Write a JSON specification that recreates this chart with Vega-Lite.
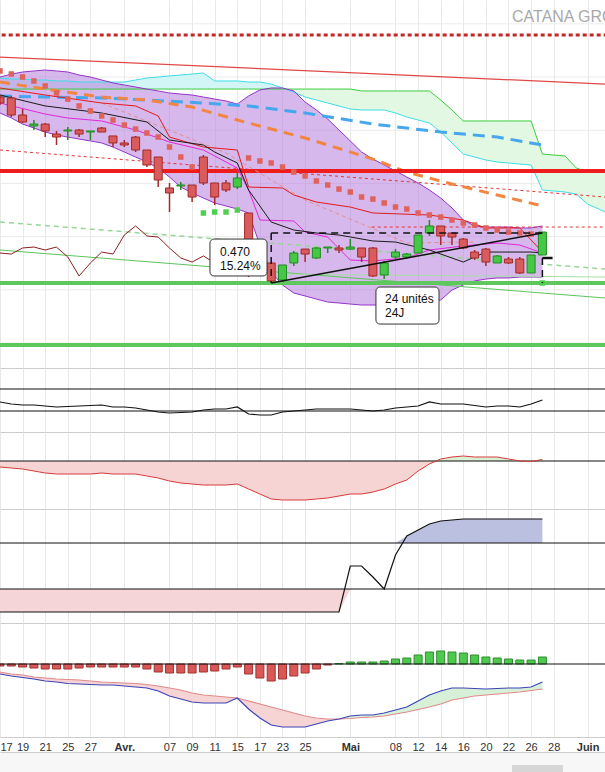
{
"$schema":"https://vega.github.io/schema/vega-lite/v6.json",
"padding":0,
"spacing":0,
"background":"#ffffff",
"config":{"view":{"stroke":null},"font":"Liberation Sans"},
"resolve":{"scale":{"x":"independent","y":"independent"}},
"datasets":{
"px":[
{"i":0,"d":"2025-03-17","o":4.362,"h":4.381,"l":4.287,"c":4.306,"sar":4.607,"bu":4.550,"bl":4.212},
{"i":1,"d":"2025-03-18","o":4.353,"h":4.372,"l":4.174,"c":4.193,"sar":4.578,"bu":4.578,"bl":4.165},
{"i":2,"d":"2025-03-19","o":4.193,"h":4.249,"l":4.118,"c":4.127,"sar":4.550,"bu":4.597,"bl":4.108},
{"i":3,"d":"2025-03-20","o":4.090,"h":4.146,"l":4.052,"c":4.108,"sar":4.513,"bu":4.607,"bl":4.071},
{"i":4,"d":"2025-03-21","o":4.108,"h":4.118,"l":3.986,"c":4.043,"sar":4.466,"bu":4.616,"bl":4.033},
{"i":5,"d":"2025-03-24","o":4.014,"h":4.043,"l":3.911,"c":3.986,"sar":4.400,"bu":4.607,"bl":4.005},
{"i":6,"d":"2025-03-25","o":4.043,"h":4.080,"l":3.958,"c":4.052,"sar":4.343,"bu":4.597,"bl":3.986},
{"i":7,"d":"2025-03-26","o":4.052,"h":4.061,"l":3.986,"c":4.014,"sar":4.278,"bu":4.569,"bl":3.967},
{"i":8,"d":"2025-03-27","o":4.033,"h":4.043,"l":3.958,"c":4.043,"sar":4.231,"bu":4.550,"bl":3.949},
{"i":9,"d":"2025-03-28","o":4.071,"h":4.080,"l":4.033,"c":4.033,"sar":4.184,"bu":4.522,"bl":3.930},
{"i":10,"d":"2025-03-31","o":3.996,"h":3.996,"l":3.892,"c":3.930,"sar":4.146,"bu":4.494,"bl":3.892},
{"i":11,"d":"2025-04-01","o":3.930,"h":3.958,"l":3.892,"c":3.911,"sar":4.099,"bu":4.475,"bl":3.845},
{"i":12,"d":"2025-04-02","o":3.986,"h":3.996,"l":3.845,"c":3.864,"sar":4.061,"bu":4.456,"bl":3.798},
{"i":13,"d":"2025-04-03","o":3.864,"h":3.864,"l":3.704,"c":3.723,"sar":4.024,"bu":4.437,"bl":3.751},
{"i":14,"d":"2025-04-04","o":3.798,"h":3.798,"l":3.516,"c":3.582,"sar":3.986,"bu":4.419,"bl":3.695},
{"i":15,"d":"2025-04-07","o":3.507,"h":3.554,"l":3.281,"c":3.460,"sar":3.892,"bu":4.400,"bl":3.610},
{"i":16,"d":"2025-04-08","o":3.526,"h":3.563,"l":3.488,"c":3.535,"sar":3.798,"bu":4.390,"bl":3.516},
{"i":17,"d":"2025-04-09","o":3.535,"h":3.535,"l":3.375,"c":3.422,"sar":3.704,"bu":4.381,"bl":3.460},
{"i":18,"d":"2025-04-10","o":3.798,"h":3.817,"l":3.535,"c":3.554,"sar":3.272,"bu":4.362,"bl":3.413},
{"i":19,"d":"2025-04-11","o":3.554,"h":3.554,"l":3.347,"c":3.422,"sar":3.281,"bu":4.343,"bl":3.366},
{"i":20,"d":"2025-04-14","o":3.554,"h":3.582,"l":3.469,"c":3.488,"sar":3.281,"bu":4.325,"bl":3.338},
{"i":21,"d":"2025-04-15","o":3.516,"h":3.648,"l":3.497,"c":3.601,"sar":3.300,"bu":4.296,"bl":3.309},
{"i":22,"d":"2025-04-16","o":3.272,"h":3.272,"l":2.670,"c":2.811,"sar":3.789,"bu":4.372,"bl":3.272},
{"i":23,"d":"2025-04-17","o":3.018,"h":3.027,"l":2.708,"c":2.736,"sar":3.761,"bu":4.428,"bl":2.971},
{"i":24,"d":"2025-04-22","o":2.802,"h":2.802,"l":2.623,"c":2.633,"sar":3.742,"bu":4.447,"bl":2.717},
{"i":25,"d":"2025-04-23","o":2.642,"h":2.783,"l":2.623,"c":2.783,"sar":3.704,"bu":4.447,"bl":2.595},
{"i":26,"d":"2025-04-24","o":2.802,"h":2.915,"l":2.774,"c":2.896,"sar":3.657,"bu":4.419,"bl":2.520},
{"i":27,"d":"2025-04-25","o":2.933,"h":2.933,"l":2.811,"c":2.886,"sar":3.620,"bu":4.315,"bl":2.492},
{"i":28,"d":"2025-04-28","o":2.849,"h":2.952,"l":2.839,"c":2.943,"sar":3.573,"bu":4.240,"bl":2.463},
{"i":29,"d":"2025-04-29","o":2.943,"h":2.952,"l":2.896,"c":2.952,"sar":3.535,"bu":4.155,"bl":2.435},
{"i":30,"d":"2025-04-30","o":2.943,"h":2.971,"l":2.896,"c":2.924,"sar":3.497,"bu":4.052,"bl":2.426},
{"i":31,"d":"2025-05-02","o":2.933,"h":3.027,"l":2.924,"c":2.952,"sar":3.469,"bu":3.949,"bl":2.416},
{"i":32,"d":"2025-05-05","o":2.943,"h":2.943,"l":2.811,"c":2.858,"sar":3.422,"bu":3.845,"bl":2.407},
{"i":33,"d":"2025-05-06","o":2.943,"h":2.952,"l":2.670,"c":2.680,"sar":3.403,"bu":3.779,"bl":2.407},
{"i":34,"d":"2025-05-07","o":2.689,"h":2.821,"l":2.651,"c":2.802,"sar":3.366,"bu":3.723,"bl":2.407},
{"i":35,"d":"2025-05-08","o":2.858,"h":2.933,"l":2.839,"c":2.905,"sar":3.328,"bu":3.667,"bl":2.416},
{"i":36,"d":"2025-05-09","o":2.858,"h":2.896,"l":2.849,"c":2.886,"sar":3.309,"bu":3.610,"bl":2.426},
{"i":37,"d":"2025-05-12","o":2.896,"h":3.065,"l":2.896,"c":3.065,"sar":3.272,"bu":3.554,"bl":2.435},
{"i":38,"d":"2025-05-13","o":3.084,"h":3.206,"l":3.056,"c":3.150,"sar":3.253,"bu":3.488,"bl":2.445},
{"i":39,"d":"2025-05-14","o":3.150,"h":3.150,"l":2.971,"c":3.056,"sar":3.234,"bu":3.413,"bl":2.454},
{"i":40,"d":"2025-05-15","o":3.084,"h":3.084,"l":2.971,"c":3.046,"sar":3.206,"bu":3.319,"bl":2.548},
{"i":41,"d":"2025-05-16","o":3.027,"h":3.037,"l":2.933,"c":2.943,"sar":3.178,"bu":3.206,"bl":2.595},
{"i":42,"d":"2025-05-19","o":2.905,"h":2.924,"l":2.830,"c":2.849,"sar":3.159,"bu":3.150,"bl":2.633},
{"i":43,"d":"2025-05-20","o":2.933,"h":2.943,"l":2.774,"c":2.811,"sar":3.131,"bu":3.140,"bl":2.651},
{"i":44,"d":"2025-05-21","o":2.802,"h":2.877,"l":2.802,"c":2.868,"sar":3.112,"bu":3.140,"bl":2.661},
{"i":45,"d":"2025-05-22","o":2.839,"h":2.858,"l":2.792,"c":2.802,"sar":3.093,"bu":3.140,"bl":2.661},
{"i":46,"d":"2025-05-23","o":2.839,"h":2.858,"l":2.698,"c":2.708,"sar":3.084,"bu":3.131,"bl":2.670},
{"i":47,"d":"2025-05-26","o":2.708,"h":2.877,"l":2.708,"c":2.877,"sar":3.074,"bu":3.131,"bl":2.670},
{"i":48,"d":"2025-05-27","o":2.877,"h":3.093,"l":2.877,"c":3.093,"sar":2.614,"bu":3.150,"bl":2.670}
],
"ic":[
{"i":0,"a":4.437,"b":4.541},{"i":1,"a":4.437,"b":4.531},{"i":2,"a":4.437,"b":4.531},{"i":3,"a":4.437,"b":4.522},
{"i":4,"a":4.437,"b":4.522},{"i":5,"a":4.437,"b":4.513},{"i":6,"a":4.437,"b":4.513},{"i":7,"a":4.437,"b":4.503},
{"i":8,"a":4.437,"b":4.503},{"i":9,"a":4.437,"b":4.503},{"i":10,"a":4.437,"b":4.503},{"i":11,"a":4.437,"b":4.503},
{"i":12,"a":4.437,"b":4.522},{"i":13,"a":4.437,"b":4.541},{"i":14,"a":4.437,"b":4.550},{"i":15,"a":4.437,"b":4.560},
{"i":16,"a":4.437,"b":4.569},{"i":17,"a":4.437,"b":4.578},{"i":18,"a":4.437,"b":4.588},{"i":19,"a":4.437,"b":4.513},
{"i":20,"a":4.437,"b":4.513},{"i":21,"a":4.437,"b":4.513},{"i":22,"a":4.437,"b":4.503},{"i":23,"a":4.437,"b":4.503},
{"i":24,"a":4.437,"b":4.484},{"i":25,"a":4.437,"b":4.447},{"i":26,"a":4.437,"b":4.409},{"i":27,"a":4.437,"b":4.362},
{"i":28,"a":4.437,"b":4.334},{"i":29,"a":4.437,"b":4.306},{"i":30,"a":4.437,"b":4.278},{"i":31,"a":4.437,"b":4.249},
{"i":32,"a":4.419,"b":4.240},{"i":33,"a":4.419,"b":4.240},{"i":34,"a":4.419,"b":4.240},{"i":35,"a":4.419,"b":4.212},
{"i":36,"a":4.419,"b":4.174},{"i":37,"a":4.419,"b":4.146},{"i":38,"a":4.419,"b":4.118},{"i":39,"a":4.334,"b":4.033},
{"i":40,"a":4.240,"b":3.930},{"i":41,"a":4.137,"b":3.826},{"i":42,"a":4.137,"b":3.798},{"i":43,"a":4.137,"b":3.770},
{"i":44,"a":4.137,"b":3.751},{"i":45,"a":4.137,"b":3.742},{"i":46,"a":4.137,"b":3.732},{"i":47,"a":4.137,"b":3.723},
{"i":48,"a":3.826,"b":3.488},{"i":49,"a":3.817,"b":3.479},{"i":50,"a":3.808,"b":3.469},{"i":51,"a":3.695,"b":3.450},
{"i":52,"a":3.657,"b":3.356},{"i":53,"a":3.657,"b":3.309},{"i":53.54,"a":3.657,"b":3.281}
],
"ck":[
{"i":0,"v":2.896},{"i":1,"v":2.886},{"i":2,"v":2.943},{"i":3,"v":2.952},{"i":4,"v":2.924},{"i":5,"v":2.952},
{"i":6,"v":2.858},{"i":7,"v":2.680},{"i":8,"v":2.802},{"i":9,"v":2.905},{"i":10,"v":2.886},{"i":11,"v":3.065},
{"i":12,"v":3.150},{"i":13,"v":3.056},{"i":14,"v":3.046},{"i":15,"v":2.943},{"i":16,"v":2.849},{"i":17,"v":2.811},
{"i":18,"v":2.868},{"i":19,"v":2.802},{"i":20,"v":2.708},{"i":21,"v":2.877},{"i":22,"v":3.093}
],
"ma":[
{"s":"blue","i":0,"v":4.372},{"s":"blue","i":4,"v":4.362},{"s":"blue","i":9,"v":4.353},{"s":"blue","i":13,"v":4.334},{"s":"blue","i":18,"v":4.306},{"s":"blue","i":22,"v":4.278},{"s":"blue","i":27,"v":4.212},{"s":"blue","i":33,"v":4.108},{"s":"blue","i":39,"v":4.033},{"s":"blue","i":44,"v":3.986},{"s":"blue","i":48,"v":3.911},
{"s":"orange","i":0,"v":4.503},{"s":"orange","i":4,"v":4.437},{"s":"orange","i":9,"v":4.362},{"s":"orange","i":13,"v":4.334},{"s":"orange","i":17,"v":4.268},{"s":"orange","i":21,"v":4.146},{"s":"orange","i":27,"v":3.977},{"s":"orange","i":33,"v":3.779},{"s":"orange","i":36,"v":3.657},{"s":"orange","i":40,"v":3.544},{"s":"orange","i":44,"v":3.441},{"s":"orange","i":48,"v":3.338},
{"s":"black","i":0,"v":4.381},{"s":"black","i":4,"v":4.278},{"s":"black","i":9,"v":4.212},{"s":"black","i":13,"v":4.127},{"s":"black","i":15,"v":3.958},{"s":"black","i":18,"v":3.911},{"s":"black","i":19,"v":3.845},{"s":"black","i":21,"v":3.742},{"s":"black","i":22,"v":3.488},{"s":"black","i":24,"v":3.187},{"s":"black","i":26,"v":3.112},{"s":"black","i":28,"v":3.084},{"s":"black","i":30,"v":3.065},{"s":"black","i":33,"v":3.009},{"s":"black","i":35,"v":2.999},{"s":"black","i":38,"v":2.924},{"s":"black","i":41,"v":2.811},{"s":"black","i":43,"v":2.905},{"s":"black","i":47,"v":2.905},{"s":"black","i":48,"v":2.896},
{"s":"red","i":0,"v":4.447},{"s":"red","i":4,"v":4.381},{"s":"red","i":9,"v":4.306},{"s":"red","i":12,"v":4.278},{"s":"red","i":14,"v":4.184},{"s":"red","i":15,"v":3.986},{"s":"red","i":18,"v":3.892},{"s":"red","i":21,"v":3.864},{"s":"red","i":22,"v":3.516},{"s":"red","i":25,"v":3.507},{"s":"red","i":26,"v":3.441},{"s":"red","i":28,"v":3.375},{"s":"red","i":31,"v":3.328},{"s":"red","i":33,"v":3.272},{"s":"red","i":38,"v":3.253},{"s":"red","i":41,"v":3.206},{"s":"red","i":43,"v":3.131},{"s":"red","i":46,"v":3.131},{"s":"red","i":47,"v":3.018},{"s":"red","i":48,"v":2.905},
{"s":"mag","i":0,"v":4.306},{"s":"mag","i":4,"v":4.202},{"s":"mag","i":6,"v":4.165},{"s":"mag","i":9,"v":4.137},{"s":"mag","i":12,"v":4.052},{"s":"mag","i":15,"v":3.939},{"s":"mag","i":18,"v":3.864},{"s":"mag","i":21,"v":3.695},{"s":"mag","i":22,"v":3.488},{"s":"mag","i":23,"v":3.206},{"s":"mag","i":26,"v":3.197},{"s":"mag","i":27,"v":3.093},{"s":"mag","i":29,"v":3.046},{"s":"mag","i":31,"v":2.830},{"s":"mag","i":33,"v":2.821},{"s":"mag","i":36,"v":2.849},{"s":"mag","i":38,"v":2.924},{"s":"mag","i":41,"v":2.962},{"s":"mag","i":44,"v":2.990},{"s":"mag","i":46,"v":2.971},{"s":"mag","i":48,"v":2.896},
{"s":"salm","i":9,"v":4.306},{"s":"salm","i":20,"v":3.836},{"s":"salm","i":27,"v":3.394},{"s":"salm","i":36,"v":2.990},{"s":"salm","i":42,"v":2.999}
],
"gl":[
{"g":"5.05","i":0,"v":5.05},{"g":"5.05","i":53.54,"v":5.05},
{"g":"4.55","i":0,"v":4.55},{"g":"4.55","i":53.54,"v":4.55},
{"g":"4.05","i":0,"v":4.05},{"g":"4.05","i":53.54,"v":4.05},
{"g":"3.55","i":0,"v":3.55},{"g":"3.55","i":53.54,"v":3.55},
{"g":"3.05","i":0,"v":3.05},{"g":"3.05","i":53.54,"v":3.05},
{"g":"2.55","i":0,"v":2.55},{"g":"2.55","i":53.54,"v":2.55},
{"g":"2.05","i":0,"v":2.05},{"g":"2.05","i":53.54,"v":2.05}
],
"hz":[
{"s":"rthick","i":0,"i2":53.54,"v":3.667},
{"s":"gthick1","i":0,"i2":53.54,"v":2.614},
{"s":"gthick2","i":0,"i2":53.54,"v":2.031}
],
"tl":[
{"s":"rdot","i":0.15,"v":4.945},{"s":"rdot","i":53.54,"v":4.945},
{"s":"rthin","i":0,"v":4.738},{"s":"rthin","i":53.54,"v":4.484},
{"s":"rdash","i":0,"v":3.864},{"s":"rdash","i":53.54,"v":3.422},
{"s":"rdash2","i":32.9,"v":3.140},{"s":"rdash2","i":53.54,"v":3.140},
{"s":"gdash","i":0,"v":3.187},{"s":"gdash","i":53.54,"v":2.745},
{"s":"gthin","i":0,"v":2.924},{"s":"gthin","i":53.54,"v":2.473},
{"s":"gfaint","i":24,"v":2.698},{"s":"gfaint","i":53.54,"v":2.670},
{"s":"kdash","i":24,"v":3.084},{"s":"kdash","i":48,"v":3.084},
{"s":"kvl","i":24,"v":3.084},{"s":"kvl","i":24,"v":2.614},
{"s":"kvr","i":48,"v":2.849},{"s":"kvr","i":48,"v":2.614},
{"s":"kdiag","i":24,"v":2.614},{"s":"kdiag","i":48,"v":3.084},
{"s":"khr","i":48,"v":2.849},{"s":"khr","i":48.9,"v":2.849}
],
"nb":[
{"k":"b1","i":18.58,"i2":23.63,"y":3.027,"y2":2.680},
{"k":"b2","i":33.27,"i2":38.85,"y":2.576,"y2":2.228}
],
"nt":[
{"i":19.47,"v":2.905,"t":"0.470"},
{"i":19.47,"v":2.774,"t":"15.24%"},
{"i":34.07,"v":2.459,"t":"24 unités"},
{"i":34.07,"v":2.332,"t":"24J"}
],
"ti":[{"i":45.31,"v":5.114,"t":"CATANA GROUP"}],
"lv":[
{"k":"r70","i":0,"v":70},{"k":"r70","i":53.54,"v":70},{"k":"r30","i":0,"v":30},{"k":"r30","i":53.54,"v":30},
{"k":"o0","i":0,"v":0},{"k":"o0","i":53.54,"v":0},
{"k":"s0","i":0,"v":0},{"k":"s0","i":53.54,"v":0},{"k":"s46","i":0,"v":46},{"k":"s46","i":53.54,"v":46},
{"k":"m0","i":0,"v":0},{"k":"m0","i":53.54,"v":0}
],
"nav":[{"i":45.31,"i2":49.82,"y":0,"y2":7}],
"sb":[
{"i":0,"rsi":46.4,"os":-6,"on":-6,"op":0,"st":-23,"sl":-23,"sh":46,"mh":-2,"mm":-10,"ms":-8},
{"i":1,"rsi":42.7,"os":-7,"on":-7,"op":0,"st":-23,"sl":-23,"sh":46,"mh":-2,"mm":-12,"ms":-10},
{"i":2,"rsi":40.9,"os":-8,"on":-8,"op":0,"st":-23,"sl":-23,"sh":46,"mh":-3,"mm":-13.5,"ms":-11},
{"i":3,"rsi":40.9,"os":-10,"on":-10,"op":0,"st":-23,"sl":-23,"sh":46,"mh":-4,"mm":-15,"ms":-13},
{"i":4,"rsi":39.1,"os":-12,"on":-12,"op":0,"st":-23,"sl":-23,"sh":46,"mh":-5,"mm":-17,"ms":-14},
{"i":5,"rsi":37.3,"os":-13,"on":-13,"op":0,"st":-23,"sl":-23,"sh":46,"mh":-5,"mm":-18,"ms":-15},
{"i":6,"rsi":38.2,"os":-13,"on":-13,"op":0,"st":-23,"sl":-23,"sh":46,"mh":-5,"mm":-19.5,"ms":-15.5},
{"i":7,"rsi":39.1,"os":-13,"on":-13,"op":0,"st":-23,"sl":-23,"sh":46,"mh":-4,"mm":-20,"ms":-16},
{"i":8,"rsi":40.0,"os":-13,"on":-13,"op":0,"st":-23,"sl":-23,"sh":46,"mh":-3,"mm":-20.5,"ms":-17},
{"i":9,"rsi":40.9,"os":-12,"on":-12,"op":0,"st":-23,"sl":-23,"sh":46,"mh":-3,"mm":-21,"ms":-18},
{"i":10,"rsi":37.3,"os":-13,"on":-13,"op":0,"st":-23,"sl":-23,"sh":46,"mh":-3,"mm":-21,"ms":-18.5},
{"i":11,"rsi":37.3,"os":-13,"on":-13,"op":0,"st":-23,"sl":-23,"sh":46,"mh":-3,"mm":-22,"ms":-19},
{"i":12,"rsi":35.5,"os":-13,"on":-13,"op":0,"st":-23,"sl":-23,"sh":46,"mh":-3,"mm":-23,"ms":-19.5},
{"i":13,"rsi":31.8,"os":-15,"on":-15,"op":0,"st":-23,"sl":-23,"sh":46,"mh":-5,"mm":-24,"ms":-20.5},
{"i":14,"rsi":28.2,"os":-17,"on":-17,"op":0,"st":-23,"sl":-23,"sh":46,"mh":-8,"mm":-27,"ms":-22},
{"i":15,"rsi":26.4,"os":-20,"on":-20,"op":0,"st":-23,"sl":-23,"sh":46,"mh":-9,"mm":-32,"ms":-24},
{"i":16,"rsi":27.3,"os":-22,"on":-22,"op":0,"st":-23,"sl":-23,"sh":46,"mh":-9,"mm":-35,"ms":-26},
{"i":17,"rsi":28.2,"os":-23,"on":-23,"op":0,"st":-23,"sl":-23,"sh":46,"mh":-9,"mm":-38,"ms":-29},
{"i":18,"rsi":31.8,"os":-24,"on":-24,"op":0,"st":-23,"sl":-23,"sh":46,"mh":-8,"mm":-39,"ms":-31},
{"i":19,"rsi":33.6,"os":-24,"on":-24,"op":0,"st":-23,"sl":-23,"sh":46,"mh":-7,"mm":-39,"ms":-32},
{"i":20,"rsi":33.6,"os":-24,"on":-24,"op":0,"st":-23,"sl":-23,"sh":46,"mh":-5,"mm":-39,"ms":-33},
{"i":21,"rsi":37.3,"os":-23,"on":-23,"op":0,"st":-23,"sl":-23,"sh":46,"mh":-3,"mm":-34,"ms":-34},
{"i":22,"rsi":24.5,"os":-28,"on":-28,"op":0,"st":-23,"sl":-23,"sh":46,"mh":-10,"mm":-45,"ms":-37},
{"i":23,"rsi":22.7,"os":-33,"on":-33,"op":0,"st":-23,"sl":-23,"sh":46,"mh":-14,"mm":-54,"ms":-40},
{"i":24,"rsi":22.7,"os":-38,"on":-38,"op":0,"st":-23,"sl":-23,"sh":46,"mh":-17,"mm":-61,"ms":-43},
{"i":25,"rsi":28.2,"os":-39,"on":-39,"op":0,"st":-23,"sl":-23,"sh":46,"mh":-15,"mm":-63,"ms":-46},
{"i":26,"rsi":30.0,"os":-39,"on":-39,"op":0,"st":-23,"sl":-23,"sh":46,"mh":-12,"mm":-63,"ms":-49},
{"i":27,"rsi":31.8,"os":-39,"on":-39,"op":0,"st":-23,"sl":-23,"sh":46,"mh":-9,"mm":-63,"ms":-52},
{"i":28,"rsi":33.6,"os":-38,"on":-38,"op":0,"st":-23,"sl":-23,"sh":46,"mh":-5,"mm":-60,"ms":-54},
{"i":29,"rsi":33.6,"os":-37,"on":-37,"op":0,"st":-23,"sl":-23,"sh":46,"mh":-1,"mm":-57,"ms":-55},
{"i":30,"rsi":33.6,"os":-35,"on":-35,"op":0,"st":-23,"sl":-23,"sh":46,"mh":0.5,"mm":-55,"ms":-55},
{"i":31,"rsi":33.6,"os":-33,"on":-33,"op":0,"st":23,"sl":0,"sh":46,"mh":2,"mm":-52,"ms":-54.5},
{"i":32,"rsi":31.8,"os":-33,"on":-33,"op":0,"st":23,"sl":0,"sh":46,"mh":2,"mm":-51,"ms":-53.5},
{"i":33,"rsi":30.0,"os":-31,"on":-31,"op":0,"st":12,"sl":0,"sh":46,"mh":2,"mm":-51,"ms":-53},
{"i":34,"rsi":31.8,"os":-28,"on":-28,"op":0,"st":0,"sl":0,"sh":46,"mh":3,"mm":-49,"ms":-52},
{"i":35,"rsi":35.5,"os":-23,"on":-23,"op":0,"st":34,"sl":0,"sh":46,"mh":5,"mm":-46,"ms":-50},
{"i":36,"rsi":37.3,"os":-19,"on":-19,"op":0,"st":53,"sl":0,"sh":53,"mh":6,"mm":-43,"ms":-48},
{"i":37,"rsi":39.1,"os":-10,"on":-10,"op":0,"st":59,"sl":0,"sh":59,"mh":9,"mm":-37,"ms":-45.5},
{"i":38,"rsi":46.4,"os":-3,"on":-3,"op":0,"st":65,"sl":0,"sh":65,"mh":12,"mm":-31,"ms":-43},
{"i":39,"rsi":42.7,"os":2,"on":0,"op":2,"st":68,"sl":0,"sh":68,"mh":13,"mm":-27,"ms":-40},
{"i":40,"rsi":42.7,"os":4,"on":0,"op":4,"st":69,"sl":0,"sh":69,"mh":12,"mm":-24,"ms":-36},
{"i":41,"rsi":42.7,"os":5,"on":0,"op":5,"st":70,"sl":0,"sh":70,"mh":11,"mm":-24,"ms":-34},
{"i":42,"rsi":40.0,"os":4,"on":0,"op":4,"st":70,"sl":0,"sh":70,"mh":9,"mm":-24.5,"ms":-32},
{"i":43,"rsi":37.3,"os":4,"on":0,"op":4,"st":70,"sl":0,"sh":70,"mh":7,"mm":-25,"ms":-31},
{"i":44,"rsi":39.1,"os":4,"on":0,"op":4,"st":70,"sl":0,"sh":70,"mh":6,"mm":-24.5,"ms":-30},
{"i":45,"rsi":39.1,"os":2,"on":0,"op":2,"st":70,"sl":0,"sh":70,"mh":5,"mm":-24,"ms":-29},
{"i":46,"rsi":37.3,"os":0,"on":0,"op":0,"st":70,"sl":0,"sh":70,"mh":4,"mm":-24,"ms":-28},
{"i":47,"rsi":42.7,"os":-0.5,"on":-0.5,"op":0,"st":70,"sl":0,"sh":70,"mh":4,"mm":-23,"ms":-26.5},
{"i":48,"rsi":50.0,"os":1.5,"on":0,"op":1.5,"st":70,"sl":0,"sh":70,"mh":7,"mm":-18,"ms":-25}
]
},
"vconcat":[
{
"width":605,"height":368,
"encoding":{"x":{"field":"i","type":"quantitative","scale":{"domain":[0,53.54],"nice":false,"zero":false,"clamp":true},"axis":{"values":[0,2,4,6,8,11,15,17,19,21,23,25,27,31,35,37,39,41,43,45,47,49,52],"labels":false,"ticks":false,"domain":true,"domainColor":"#cccccc","grid":true,"gridColor":"#e8e8e8","title":null}}},
"layer":[
{"data":{"name":"gl"},"mark":{"type":"line","color":"#ebebeb","strokeWidth":1,"clip":true},
 "encoding":{"y":{"field":"v","type":"quantitative","scale":{"domain":[1.815,5.274],"nice":false,"zero":false},"axis":null},"detail":{"field":"g"}}},
{"data":{"name":"ic"},"transform":[{"filter":"datum.i<=25"}],"mark":{"type":"area","color":"#d2f5f6","clip":true},
 "encoding":{"y":{"field":"a","type":"quantitative","scale":{"domain":[1.815,5.274],"nice":false,"zero":false},"axis":null},"y2":{"field":"b"}}},
{"data":{"name":"ic"},"transform":[{"filter":"datum.i>=25"}],"mark":{"type":"area","color":"#e2f8e2","clip":true},
 "encoding":{"y":{"field":"a","type":"quantitative","scale":{"domain":[1.815,5.274],"nice":false,"zero":false},"axis":null},"y2":{"field":"b"}}},
{"data":{"name":"px"},"mark":{"type":"area","color":"#b57edc","opacity":0.55,"clip":true},
 "encoding":{"y":{"field":"bu","type":"quantitative","scale":{"domain":[1.815,5.274],"nice":false,"zero":false},"axis":null},"y2":{"field":"bl"}}},
{"data":{"name":"ic"},"mark":{"type":"line","color":"#3dcc3d","strokeWidth":1,"clip":true},
 "encoding":{"y":{"field":"a","type":"quantitative","scale":{"domain":[1.815,5.274],"nice":false,"zero":false},"axis":null}}},
{"data":{"name":"ic"},"mark":{"type":"line","color":"#3fdde6","strokeWidth":1,"clip":true},
 "encoding":{"y":{"field":"b","type":"quantitative","scale":{"domain":[1.815,5.274],"nice":false,"zero":false},"axis":null}}},
{"data":{"name":"px"},"mark":{"type":"line","color":"#9434c8","strokeWidth":1,"clip":true},
 "encoding":{"y":{"field":"bu","type":"quantitative","scale":{"domain":[1.815,5.274],"nice":false,"zero":false},"axis":null}}},
{"data":{"name":"px"},"mark":{"type":"line","color":"#9434c8","strokeWidth":1,"clip":true},
 "encoding":{"y":{"field":"bl","type":"quantitative","scale":{"domain":[1.815,5.274],"nice":false,"zero":false},"axis":null}}},
{"data":{"name":"tl"},"transform":[{"filter":"datum.s=='rdot'"}],"mark":{"type":"line","color":"#c42626","strokeWidth":3,"strokeDash":[4,3],"clip":true},
 "encoding":{"y":{"field":"v","type":"quantitative","scale":{"domain":[1.815,5.274],"nice":false,"zero":false},"axis":null}}},
{"data":{"name":"tl"},"transform":[{"filter":"datum.s=='rthin'"}],"mark":{"type":"line","color":"#e04848","strokeWidth":1.2,"clip":true},
 "encoding":{"y":{"field":"v","type":"quantitative","scale":{"domain":[1.815,5.274],"nice":false,"zero":false},"axis":null}}},
{"data":{"name":"tl"},"transform":[{"filter":"datum.s=='rdash'||datum.s=='rdash2'"}],"mark":{"type":"line","color":"#e03636","strokeWidth":1,"strokeDash":[3,3],"clip":true},
 "encoding":{"y":{"field":"v","type":"quantitative","scale":{"domain":[1.815,5.274],"nice":false,"zero":false},"axis":null},"detail":{"field":"s"}}},
{"data":{"name":"tl"},"transform":[{"filter":"datum.s=='gdash'"}],"mark":{"type":"line","color":"#97d697","strokeWidth":1.5,"strokeDash":[5,4],"clip":true},
 "encoding":{"y":{"field":"v","type":"quantitative","scale":{"domain":[1.815,5.274],"nice":false,"zero":false},"axis":null}}},
{"data":{"name":"tl"},"transform":[{"filter":"datum.s=='gthin'"}],"mark":{"type":"line","color":"#5cc45c","strokeWidth":1,"clip":true},
 "encoding":{"y":{"field":"v","type":"quantitative","scale":{"domain":[1.815,5.274],"nice":false,"zero":false},"axis":null}}},
{"data":{"name":"tl"},"transform":[{"filter":"datum.s=='gfaint'"}],"mark":{"type":"line","color":"#a6dea6","strokeWidth":1,"clip":true},
 "encoding":{"y":{"field":"v","type":"quantitative","scale":{"domain":[1.815,5.274],"nice":false,"zero":false},"axis":null}}},
{"data":{"name":"ma"},"transform":[{"filter":"datum.s=='blue'"}],"mark":{"type":"line","color":"#45a7ee","strokeWidth":3,"strokeDash":[12,7],"clip":true},
 "encoding":{"y":{"field":"v","type":"quantitative","scale":{"domain":[1.815,5.274],"nice":false,"zero":false},"axis":null}}},
{"data":{"name":"ma"},"transform":[{"filter":"datum.s=='orange'"}],"mark":{"type":"line","color":"#f28540","strokeWidth":3,"strokeDash":[10,7],"clip":true},
 "encoding":{"y":{"field":"v","type":"quantitative","scale":{"domain":[1.815,5.274],"nice":false,"zero":false},"axis":null}}},
{"data":{"name":"hz"},"transform":[{"calculate":"datum.v-0.0188","as":"v0"},{"calculate":"datum.v+0.0188","as":"v1"}],"mark":{"type":"rect","clip":true},
 "encoding":{"x2":{"field":"i2"},"y":{"field":"v0","type":"quantitative","scale":{"domain":[1.815,5.274],"nice":false,"zero":false},"axis":null},"y2":{"field":"v1"},
  "fill":{"condition":{"test":"datum.s=='rthick'","value":"#ee1c1c"},"value":"#5ec85e"}}},
{"data":{"name":"ma"},"transform":[{"filter":"datum.s=='salm'"}],"mark":{"type":"line","color":"#e28f8f","strokeWidth":1,"strokeDash":[4,3],"clip":true},
 "encoding":{"y":{"field":"v","type":"quantitative","scale":{"domain":[1.815,5.274],"nice":false,"zero":false},"axis":null}}},
{"data":{"name":"ma"},"transform":[{"filter":"datum.s=='mag'"}],"mark":{"type":"line","color":"#e027d8","strokeWidth":1,"clip":true},
 "encoding":{"y":{"field":"v","type":"quantitative","scale":{"domain":[1.815,5.274],"nice":false,"zero":false},"axis":null}}},
{"data":{"name":"ma"},"transform":[{"filter":"datum.s=='red'"}],"mark":{"type":"line","color":"#e31b1b","strokeWidth":1,"clip":true},
 "encoding":{"y":{"field":"v","type":"quantitative","scale":{"domain":[1.815,5.274],"nice":false,"zero":false},"axis":null}}},
{"data":{"name":"ma"},"transform":[{"filter":"datum.s=='black'"}],"mark":{"type":"line","color":"#1a1a1a","strokeWidth":1,"clip":true},
 "encoding":{"y":{"field":"v","type":"quantitative","scale":{"domain":[1.815,5.274],"nice":false,"zero":false},"axis":null}}},
{"data":{"name":"ck"},"mark":{"type":"line","color":"#8a1f1f","strokeWidth":1,"clip":true},
 "encoding":{"y":{"field":"v","type":"quantitative","scale":{"domain":[1.815,5.274],"nice":false,"zero":false},"axis":null}}},
{"data":{"name":"px"},"transform":[{"calculate":"datum.i-0.24","as":"sx0"},{"calculate":"datum.i+0.24","as":"sx1"},{"calculate":"datum.sar-0.026","as":"sy0"},{"calculate":"datum.sar+0.026","as":"sy1"}],
 "mark":{"type":"rect","clip":true},
 "encoding":{"x":{"field":"sx0","type":"quantitative","scale":{"domain":[0,53.54],"nice":false,"zero":false,"clamp":true},"axis":{"values":[0,2,4,6,8,11,15,17,19,21,23,25,27,31,35,37,39,41,43,45,47,49,52],"labels":false,"ticks":false,"domain":true,"domainColor":"#cccccc","grid":true,"gridColor":"#e8e8e8","title":null}},"x2":{"field":"sx1"},
  "y":{"field":"sy0","type":"quantitative","scale":{"domain":[1.815,5.274],"nice":false,"zero":false},"axis":null},"y2":{"field":"sy1"},
  "fill":{"condition":{"test":"datum.sar < datum.l","value":"#4fcf4f"},"value":"#e0625d"}}},
{"data":{"name":"px"},"mark":{"type":"rule","strokeWidth":1.5,"clip":true},
 "encoding":{"y":{"field":"l","type":"quantitative","scale":{"domain":[1.815,5.274],"nice":false,"zero":false},"axis":null},"y2":{"field":"h"},
  "color":{"condition":{"test":"datum.c >= datum.o","value":"#238a23"},"value":"#a32a2a"}}},
{"data":{"name":"px"},"transform":[{"calculate":"datum.i-0.354","as":"xl"},{"calculate":"datum.i+0.354","as":"xr"}],
 "mark":{"type":"rect","strokeWidth":1,"clip":true},
 "encoding":{"x":{"field":"xl","type":"quantitative","scale":{"domain":[0,53.54],"nice":false,"zero":false,"clamp":true},"axis":{"values":[0,2,4,6,8,11,15,17,19,21,23,25,27,31,35,37,39,41,43,45,47,49,52],"labels":false,"ticks":false,"domain":true,"domainColor":"#cccccc","grid":true,"gridColor":"#e8e8e8","title":null}},"x2":{"field":"xr"},
  "y":{"field":"o","type":"quantitative","scale":{"domain":[1.815,5.274],"nice":false,"zero":false},"axis":null},"y2":{"field":"c"},
  "fill":{"condition":{"test":"datum.c >= datum.o","value":"#45c845"},"value":"#da5b5b"},
  "stroke":{"condition":{"test":"datum.c >= datum.o","value":"#238a23"},"value":"#a32a2a"}}},
{"data":{"name":"tl"},"transform":[{"filter":"datum.s=='kdash'||datum.s=='kvl'||datum.s=='kvr'"}],"mark":{"type":"line","color":"#111111","strokeWidth":1.5,"strokeDash":[7,5],"clip":true},
 "encoding":{"y":{"field":"v","type":"quantitative","scale":{"domain":[1.815,5.274],"nice":false,"zero":false},"axis":null},"detail":{"field":"s"}}},
{"data":{"name":"tl"},"transform":[{"filter":"datum.s=='kdiag'"}],"mark":{"type":"line","color":"#111111","strokeWidth":1.5,"clip":true},
 "encoding":{"y":{"field":"v","type":"quantitative","scale":{"domain":[1.815,5.274],"nice":false,"zero":false},"axis":null}}},
{"data":{"name":"tl"},"transform":[{"filter":"datum.s=='khr'"}],"mark":{"type":"line","color":"#111111","strokeWidth":2.5,"clip":true},
 "encoding":{"y":{"field":"v","type":"quantitative","scale":{"domain":[1.815,5.274],"nice":false,"zero":false},"axis":null}}},
{"data":{"name":"nb"},"mark":{"type":"rect","fill":"#ffffff","stroke":"#333333","strokeWidth":1,"cornerRadius":4,"clip":true},
 "encoding":{"x2":{"field":"i2"},"y":{"field":"y","type":"quantitative","scale":{"domain":[1.815,5.274],"nice":false,"zero":false},"axis":null},"y2":{"field":"y2"}}},
{"data":{"name":"nt"},"mark":{"type":"text","align":"left","baseline":"middle","fontSize":12,"font":"Liberation Sans","color":"#111111","clip":true},
 "encoding":{"y":{"field":"v","type":"quantitative","scale":{"domain":[1.815,5.274],"nice":false,"zero":false},"axis":null},"text":{"field":"t"}}},
{"data":{"name":"ti"},"mark":{"type":"text","align":"left","baseline":"middle","fontSize":16,"font":"Liberation Sans","color":"#a9a9a9","clip":true},
 "encoding":{"y":{"field":"v","type":"quantitative","scale":{"domain":[1.815,5.274],"nice":false,"zero":false},"axis":null},"text":{"field":"t"}}}
]
},
{
"width":605,"height":64,
"encoding":{"x":{"field":"i","type":"quantitative","scale":{"domain":[0,53.54],"nice":false,"zero":false,"clamp":true},"axis":{"values":[0,2,4,6,8,11,15,17,19,21,23,25,27,31,35,37,39,41,43,45,47,49,52],"labels":false,"ticks":false,"domain":true,"domainColor":"#cccccc","grid":true,"gridColor":"#e8e8e8","title":null}}},
"layer":[
{"data":{"name":"lv"},"transform":[{"filter":"datum.k=='r70'||datum.k=='r30'"}],"mark":{"type":"line","color":"#111111","strokeWidth":1.2,"clip":true},
 "encoding":{"y":{"field":"v","type":"quantitative","scale":{"domain":[-8.2,108.2],"nice":false,"zero":false},"axis":null},"detail":{"field":"k"}}},
{"data":{"name":"sb"},"mark":{"type":"line","color":"#111111","strokeWidth":1.2,"clip":true},
 "encoding":{"y":{"field":"rsi","type":"quantitative","scale":{"domain":[-8.2,108.2],"nice":false,"zero":false},"axis":null}}}
]
},
{
"width":605,"height":77,
"encoding":{"x":{"field":"i","type":"quantitative","scale":{"domain":[0,53.54],"nice":false,"zero":false,"clamp":true},"axis":{"values":[0,2,4,6,8,11,15,17,19,21,23,25,27,31,35,37,39,41,43,45,47,49,52],"labels":false,"ticks":false,"domain":true,"domainColor":"#cccccc","grid":true,"gridColor":"#e8e8e8","title":null}}},
"layer":[
{"data":{"name":"sb"},"mark":{"type":"area","color":"#f6d4d4","clip":true},
 "encoding":{"y":{"field":"on","type":"quantitative","scale":{"domain":[-48,29],"nice":false,"zero":false},"axis":null},"y2":{"datum":0}}},
{"data":{"name":"sb"},"mark":{"type":"area","color":"#d9f0d5","clip":true},
 "encoding":{"y":{"field":"op","type":"quantitative","scale":{"domain":[-48,29],"nice":false,"zero":false},"axis":null},"y2":{"datum":0}}},
{"data":{"name":"lv"},"transform":[{"filter":"datum.k=='o0'"}],"mark":{"type":"line","color":"#111111","strokeWidth":1.2,"clip":true},
 "encoding":{"y":{"field":"v","type":"quantitative","scale":{"domain":[-48,29],"nice":false,"zero":false},"axis":null}}},
{"data":{"name":"sb"},"mark":{"type":"line","color":"#d83a3a","strokeWidth":1,"clip":true},
 "encoding":{"y":{"field":"os","type":"quantitative","scale":{"domain":[-48,29],"nice":false,"zero":false},"axis":null}}}
]
},
{
"width":605,"height":114,
"encoding":{"x":{"field":"i","type":"quantitative","scale":{"domain":[0,53.54],"nice":false,"zero":false,"clamp":true},"axis":{"values":[0,2,4,6,8,11,15,17,19,21,23,25,27,31,35,37,39,41,43,45,47,49,52],"labels":false,"ticks":false,"domain":true,"domainColor":"#cccccc","grid":true,"gridColor":"#e8e8e8","title":null}}},
"layer":[
{"data":{"name":"sb"},"mark":{"type":"area","color":"#f5d5d8","clip":true},
 "encoding":{"y":{"field":"sl","type":"quantitative","scale":{"domain":[-34,80],"nice":false,"zero":false},"axis":null},"y2":{"datum":0}}},
{"data":{"name":"sb"},"mark":{"type":"area","color":"#bcc0e0","clip":true},
 "encoding":{"y":{"field":"sh","type":"quantitative","scale":{"domain":[-34,80],"nice":false,"zero":false},"axis":null},"y2":{"datum":46}}},
{"data":{"name":"lv"},"transform":[{"filter":"datum.k=='s0'||datum.k=='s46'"}],"mark":{"type":"line","color":"#111111","strokeWidth":1.2,"clip":true},
 "encoding":{"y":{"field":"v","type":"quantitative","scale":{"domain":[-34,80],"nice":false,"zero":false},"axis":null},"detail":{"field":"k"}}},
{"data":{"name":"sb"},"mark":{"type":"line","color":"#111111","strokeWidth":1.2,"clip":true},
 "encoding":{"y":{"field":"st","type":"quantitative","scale":{"domain":[-34,80],"nice":false,"zero":false},"axis":null}}}
]
},
{
"width":605,"height":114,
"encoding":{"x":{"field":"i","type":"quantitative","scale":{"domain":[0,53.54],"nice":false,"zero":false,"clamp":true},"axis":{"values":[0,2,4,6,8,11,15,17,19,21,23,25,27,31,35,37,39,41,43,45,47,49,52],"labelExpr":"['17','','19','','21','','25','','27','','','Avr.','','','','07','','09','','11','','15','','17','','23','','25','','','','Mai','','','','08','','12','','14','','16','','20','','22','','26','','28','','','Juin'][datum.value]","labels":true,"ticks":false,"domain":true,"domainColor":"#cccccc","grid":true,"gridColor":"#e8e8e8","title":null,"labelFontSize":11,"labelColor":"#333333","labelPadding":4,"labelFlush":false,"labelBound":false,"labelOverlap":false,"labelFont":"Liberation Sans","labelAlign":{"condition":{"test":"datum.value==0","value":"left"},"value":"center"},"labelFontWeight":{"condition":{"test":"datum.value==11||datum.value==31||datum.value==52","value":"bold"},"value":"normal"}}}},
"layer":[
{"data":{"name":"sb"},"transform":[{"filter":"datum.i<=30"}],"mark":{"type":"area","color":"#f6d4d4","clip":true},
 "encoding":{"y":{"field":"mm","type":"quantitative","scale":{"domain":[-73,41],"nice":false,"zero":false},"axis":null},"y2":{"field":"ms"}}},
{"data":{"name":"sb"},"transform":[{"filter":"datum.i>=30"}],"mark":{"type":"area","color":"#d8f0d8","clip":true},
 "encoding":{"y":{"field":"mm","type":"quantitative","scale":{"domain":[-73,41],"nice":false,"zero":false},"axis":null},"y2":{"field":"ms"}}},
{"data":{"name":"sb"},"transform":[{"calculate":"datum.i-0.354","as":"xl"},{"calculate":"datum.i+0.354","as":"xr"}],
 "mark":{"type":"rect","strokeWidth":1,"clip":true},
 "encoding":{"x":{"field":"xl","type":"quantitative","scale":{"domain":[0,53.54],"nice":false,"zero":false,"clamp":true},"axis":{"values":[0,2,4,6,8,11,15,17,19,21,23,25,27,31,35,37,39,41,43,45,47,49,52],"labelExpr":"['17','','19','','21','','25','','27','','','Avr.','','','','07','','09','','11','','15','','17','','23','','25','','','','Mai','','','','08','','12','','14','','16','','20','','22','','26','','28','','','Juin'][datum.value]","labels":true,"ticks":false,"domain":true,"domainColor":"#cccccc","grid":true,"gridColor":"#e8e8e8","title":null,"labelFontSize":11,"labelColor":"#333333","labelPadding":4,"labelFlush":false,"labelBound":false,"labelOverlap":false,"labelFont":"Liberation Sans","labelAlign":{"condition":{"test":"datum.value==0","value":"left"},"value":"center"},"labelFontWeight":{"condition":{"test":"datum.value==11||datum.value==31||datum.value==52","value":"bold"},"value":"normal"}}},"x2":{"field":"xr"},
  "y":{"field":"mh","type":"quantitative","scale":{"domain":[-73,41],"nice":false,"zero":false},"axis":null},"y2":{"datum":0},
  "fill":{"condition":{"test":"datum.mh>=0","value":"#4dca4d"},"value":"#d95757"},
  "stroke":{"condition":{"test":"datum.mh>=0","value":"#2e8c2e"},"value":"#a33232"}}},
{"data":{"name":"lv"},"transform":[{"filter":"datum.k=='m0'"}],"mark":{"type":"line","color":"#111111","strokeWidth":1.2,"clip":true},
 "encoding":{"y":{"field":"v","type":"quantitative","scale":{"domain":[-73,41],"nice":false,"zero":false},"axis":null}}},
{"data":{"name":"sb"},"mark":{"type":"line","color":"#e08a8a","strokeWidth":1.2,"clip":true},
 "encoding":{"y":{"field":"ms","type":"quantitative","scale":{"domain":[-73,41],"nice":false,"zero":false},"axis":null}}},
{"data":{"name":"sb"},"mark":{"type":"line","color":"#3b43b8","strokeWidth":1.2,"clip":true},
 "encoding":{"y":{"field":"mm","type":"quantitative","scale":{"domain":[-73,41],"nice":false,"zero":false},"axis":null}}}
]
},
{
"width":605,"height":20,
"view":{"fill":"#f7f7f7","stroke":null},
"data":{"name":"nav"},
"mark":{"type":"rect","color":"#d6d6d6"},
"encoding":{"x":{"field":"i","type":"quantitative","scale":{"domain":[0,53.54],"nice":false,"zero":false},"axis":{"orient":"top","labels":false,"ticks":false,"grid":false,"domain":true,"domainColor":"#cccccc","title":null}},
 "x2":{"field":"i2"},
 "y":{"field":"y","type":"quantitative","scale":{"domain":[0,20],"nice":false,"zero":false},"axis":null},
 "y2":{"field":"y2"}}
}
]
}
